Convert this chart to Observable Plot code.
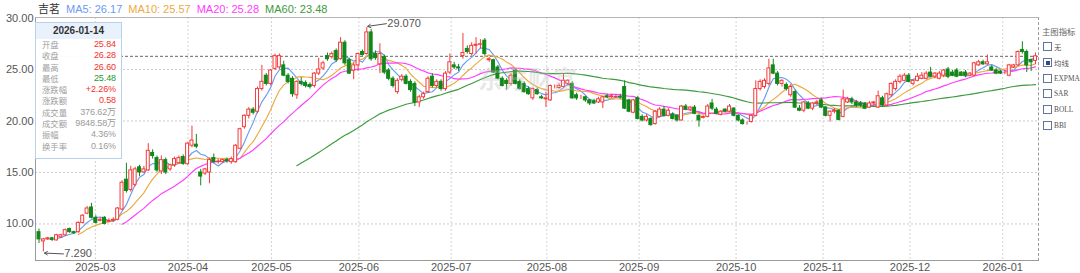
<!DOCTYPE html>
<html><head><meta charset="utf-8">
<script src="https://cdn.jsdelivr.net/npm/d3@7"></script>
<script src="https://cdn.jsdelivr.net/npm/@observablehq/plot@0.6"></script>
<style>
body{margin:0;background:#fff;font-family:"Liberation Sans",Arial,"Noto Sans CJK SC",sans-serif;}
#wrap{position:relative;width:1080px;height:273px;overflow:hidden;}
#wrap svg{position:absolute;left:0;top:0;z-index:1;}
.ov{position:absolute;z-index:2;}
#legend{left:38px;top:1px;font-size:11px;white-space:nowrap;line-height:14px;}
#legend span{margin-right:6px;}
#frame{left:35px;top:17px;width:1002px;height:242px;border-left:1px solid #9a9a9a;border-bottom:1px solid #9a9a9a;border-top:1px solid #b5b5b5;border-right:1px dashed #9a9a9a;pointer-events:none;}
#info{left:35px;top:22px;width:85px;height:135px;border:1px solid #b8d2ee;background:rgba(255,255,255,0.97);font-size:9px;z-index:3;overflow:hidden;}
#info .hd{height:16px;line-height:16px;background:#e9f2fc;text-align:center;font-weight:bold;color:#333;font-size:10px;}
#info .row{position:relative;height:11.3px;padding:0 5px 0 6px;white-space:nowrap;}
#info .row span{position:absolute;top:0;height:11.3px;line-height:11.3px;overflow:hidden;display:block;}
#info .lb{left:6px;color:#a0a0a0;font-family:"Noto Sans CJK SC",sans-serif;font-size:8.4px;}
#info .vl{right:5px;letter-spacing:-0.1px;}
#panel{left:1040px;top:24px;width:40px;}
#panel .t{color:#666;font-family:"Noto Sans CJK SC",sans-serif;font-size:8.4px;margin-left:2px;height:15px;line-height:14px;white-space:nowrap;}
#panel .opt{height:15.7px;display:flex;align-items:center;margin-left:3px;color:#555;font-family:"Liberation Serif","Noto Sans CJK SC",serif;font-size:7.4px;white-space:nowrap;}
#panel .cb{flex:0 0 auto;width:7px;height:7px;border:1px solid #61749a;margin-right:2px;position:relative;background:#fff;}
#panel .cb.on::after{content:"";position:absolute;left:1.5px;top:1.5px;width:4px;height:4px;background:#2f4b86;}
#wm{left:478px;top:60px;font-size:24px;font-weight:bold;color:rgba(190,190,190,0.35);font-family:"Noto Sans CJK SC",sans-serif;z-index:2;letter-spacing:1px;}
</style></head><body><div id="wrap"></div><script>
// ---- data ----
const open = [
9.2,8.3,8.5,8.6,8.4,8.7,8.9,9.5,9.2,9.2,
10.1,11.0,11.6,10.6,10.3,10.6,10.2,10.3,10.4,11.4,
14.3,13.3,13.8,15.5,15.0,15.2,16.9,16.4,15.1,16.2,
15.3,15.7,15.9,16.5,15.8,17.6,17.7,15.0,14.9,15.0,
16.4,16.0,16.0,16.2,16.0,16.0,17.3,19.4,20.5,21.1,
20.9,23.1,24.4,23.6,25.06,25.2,25.4,24.4,24.1,22.5,
23.8,23.7,23.5,23.4,24.6,25.1,26.3,26.2,26.8,26.0,
27.6,25.9,24.9,25.4,26.7,26.5,28.6,26.5,25.5,26.2,
24.9,24.1,22.8,24.0,24.3,23.8,23.6,21.8,22.3,22.8,
24.3,23.4,23.8,23.1,24.7,25.4,25.2,26.3,27.0,26.5,
27.3,27.4,27.8,25.9,25.9,25.2,24.1,23.9,23.6,24.9,
23.8,23.6,23.1,22.2,23.0,22.3,22.1,22.0,23.3,23.2,
23.3,23.6,23.6,22.5,22.3,22.3,22.0,21.9,21.8,21.8,
22.4,22.3,22.3,22.35,23.3,22.0,20.8,22.2,20.4,20.05,
20.2,19.7,20.4,21.1,20.5,20.6,20.5,20.05,21.4,21.1,
21.3,20.5,20.3,20.4,21.7,21.1,20.6,21.1,20.9,21.2,
20.5,20.05,19.75,19.9,20.5,23.1,23.3,23.6,25.4,24.6,
23.6,23.5,22.5,22.8,21.2,21.0,21.7,21.2,21.7,22.0,
21.3,20.5,20.9,21.0,20.4,21.8,22.1,21.8,21.7,21.7,
21.3,21.7,21.3,22.2,21.5,22.5,23.1,23.8,23.9,24.4,
23.6,23.9,24.1,24.1,24.7,24.3,24.1,24.4,25.0,24.7,
24.9,24.7,24.7,24.4,24.4,25.4,25.7,25.5,25.2,24.9,
24.8,24.7,24.4,25.2,25.4,26.9,26.7,25.9,25.84];
const high = [
9.5,8.6,8.7,8.7,9.0,9.0,9.5,9.6,9.3,10.2,
10.9,11.7,12.0,10.8,10.6,10.7,10.5,10.6,11.6,14.2,
15.9,15.6,15.5,15.7,15.6,17.8,17.2,16.6,16.6,16.4,
15.8,16.5,16.6,16.7,17.9,19.5,18.7,15.3,15.4,16.4,
16.8,16.3,16.3,16.4,16.5,17.7,19.3,20.6,21.3,21.3,
23.3,25.4,24.6,25.0,26.5,26.5,25.8,24.6,24.3,23.9,
24.2,23.9,23.7,24.7,26.1,25.8,26.6,26.7,27.0,28.1,
27.8,26.1,25.6,26.6,26.9,29.07,28.9,26.8,27.5,26.4,
25.1,24.3,24.1,24.5,24.5,24.0,23.8,22.5,22.8,24.3,
24.6,24.0,24.0,24.8,26.5,25.7,25.5,28.5,27.3,27.6,
28.1,27.9,28.0,26.2,26.0,25.4,24.3,24.1,24.6,25.0,
24.0,23.8,23.3,23.2,23.2,22.5,22.8,23.5,23.5,23.6,
24.6,24.0,23.8,22.7,22.5,22.4,22.1,22.1,22.3,22.4,
22.6,22.6,22.5,22.6,23.9,22.1,22.1,22.4,20.6,20.6,
20.3,21.0,21.3,21.4,21.2,20.8,20.6,21.5,21.6,21.4,
21.5,20.6,20.5,21.6,22.1,21.3,21.0,21.2,21.6,21.3,
20.6,20.2,19.9,20.6,23.9,24.0,24.1,26.0,26.0,24.8,
24.0,23.7,23.5,23.0,21.5,21.9,21.9,21.8,22.0,22.2,
21.4,21.0,21.2,21.1,23.0,22.3,22.3,22.0,21.9,21.8,
21.9,21.9,22.9,22.4,22.7,23.7,24.0,24.5,24.6,24.6,
24.0,24.6,24.7,24.8,25.2,24.7,24.8,25.0,25.2,24.9,
25.1,24.8,24.9,24.7,25.7,25.9,25.9,26.4,25.4,25.1,
24.9,24.9,25.5,25.5,26.8,27.7,26.9,26.0,26.6];
const low = [
8.1,7.29,8.4,8.3,8.35,8.6,8.8,9.1,9.0,9.1,
10.0,10.9,10.5,10.0,10.2,9.9,10.1,10.2,10.3,11.3,
13.0,13.1,13.6,14.6,14.9,15.1,16.3,15.0,14.8,14.8,
15.1,15.5,15.8,15.7,15.7,17.4,17.3,13.7,14.7,13.9,
15.9,15.8,15.9,15.9,15.8,15.9,17.2,19.2,20.2,20.6,
20.7,22.9,23.4,23.4,24.9,25.0,24.3,23.6,22.3,22.1,
23.4,23.2,23.1,23.2,24.4,24.9,25.8,26.0,25.7,25.9,
25.4,24.5,24.0,24.8,26.3,26.4,25.8,25.9,24.6,24.5,
23.9,23.2,22.6,23.8,23.5,22.8,21.4,21.3,22.1,22.7,
23.2,23.2,22.9,22.9,24.5,25.0,24.8,26.0,26.5,26.3,
26.5,27.0,26.3,25.7,24.6,24.0,23.3,23.0,23.4,23.5,
23.0,22.7,22.5,22.0,22.5,22.1,21.3,21.9,23.1,23.1,
23.2,23.4,22.1,22.0,22.1,21.8,21.5,21.6,21.7,21.2,
22.2,22.2,22.2,22.1,21.1,20.8,20.7,20.1,19.9,19.9,
19.5,19.6,20.3,20.4,20.4,20.1,19.9,20.0,21.0,20.9,
20.6,19.4,20.2,20.3,21.0,20.6,20.5,20.8,20.8,20.4,
19.9,19.6,19.6,19.8,20.4,22.9,23.1,23.4,24.5,23.4,
23.3,22.9,22.3,21.2,20.9,20.8,21.1,21.0,21.5,21.2,
20.4,19.9,20.7,20.0,20.3,21.7,21.6,21.3,21.3,21.1,
21.2,21.5,21.2,21.4,21.4,22.3,22.9,23.6,23.8,23.7,
23.4,23.8,24.0,24.0,24.2,24.1,24.0,24.2,24.1,24.3,
24.2,24.3,24.2,24.3,24.3,25.3,25.4,25.4,24.8,24.5,
24.5,24.5,24.3,25.1,25.3,26.5,24.7,24.8,25.48];
const close = [
8.5,8.5,8.6,8.45,8.9,8.9,9.4,9.2,9.1,10.1,
10.8,11.5,10.6,10.1,10.4,10.0,10.3,10.4,11.5,14.0,
13.2,15.2,15.3,15.0,15.3,17.1,16.6,15.2,16.2,15.0,
15.7,16.3,16.4,15.85,17.8,18.1,17.5,14.6,15.3,16.2,
16.0,16.05,16.2,16.1,16.3,17.6,19.2,20.5,21.1,20.8,
23.1,23.8,23.6,24.9,26.3,26.3,24.4,23.8,22.6,23.8,
23.6,23.4,23.3,24.6,25.0,25.6,26.0,26.5,25.9,27.6,
25.6,24.6,25.4,26.5,26.4,28.6,26.0,26.1,26.5,24.7,
24.1,23.4,23.9,24.3,23.6,23.0,21.8,22.3,22.6,24.1,
23.4,23.8,23.1,24.6,25.7,25.2,25.1,26.6,26.7,27.3,
27.4,27.45,26.5,26.0,24.7,24.1,23.4,23.6,24.4,23.6,
23.1,22.8,22.6,23.1,22.6,22.2,22.2,23.4,23.3,23.4,
23.9,23.9,22.2,22.2,22.3,22.0,21.7,21.7,22.1,22.3,
22.3,22.4,22.35,22.3,21.2,20.9,22.0,20.2,20.05,20.4,
19.6,20.9,21.1,20.5,21.0,20.2,20.05,21.4,21.1,21.3,
20.7,20.05,20.4,21.4,21.2,20.7,20.9,20.9,21.4,20.5,
20.05,19.7,19.75,20.5,23.1,23.8,23.9,25.1,24.6,23.6,
23.9,23.1,23.3,21.3,21.0,21.8,21.2,21.7,21.8,21.3,
20.5,20.9,21.0,20.1,22.1,22.1,21.8,21.5,21.5,21.2,
21.7,21.8,22.4,21.5,22.6,23.6,23.8,24.3,24.4,23.8,
23.9,24.3,24.4,24.6,24.3,24.6,24.6,24.9,24.3,24.4,
24.3,24.4,24.4,24.6,25.6,25.7,25.5,25.7,24.9,24.6,
24.6,24.7,25.4,25.4,26.7,26.7,25.4,25.7,26.28];
const tickIdx = [12.9, 34.1, 53.2, 73.2, 94.3, 116.2, 137.3, 159.5, 179.4, 199.3, 220.5];
const tickLabels = ["2025-03","2025-04","2025-05","2025-06","2025-07","2025-08","2025-09","2025-10","2025-11","2025-12","2026-01"];
const yTicks = [10, 15, 20, 25, 30];
const maPeriods = [5, 10, 20, 60];
const maNames = ["MA5", "MA10", "MA20", "MA60"];
const maLast = ["26.17", "25.57", "25.28", "23.48"];
const maColors = ["#6b9bf2", "#eda93e", "#ff3cff", "#3d9a3d"];
const stockName = "吉茗";
const infoDate = "2026-01-14";
const infoLabels = ["开盘","收盘","最高","最低","涨跌幅","涨跌额","成交量","成交额","振幅","换手率"];
const infoValues = ["25.84","26.28","26.60","25.48","+2.26%","0.58","376.62万","9848.58万","4.36%","0.16%"];
const infoColors = ["#f5312a","#f5312a","#f5312a","#1f9a2d","#f5312a","#f5312a","#9a9a9a","#9a9a9a","#9a9a9a","#9a9a9a"];
const panelTitle = "主图指标";
const panelOpts = ["无","均线","EXPMA","SAR","BOLL","BBI"];
const panelChecked = 1;

// ---- chart ----
const N = close.length;
const data = close.map((c, i) => ({i, o: open[i], h: high[i], l: low[i], c}));
const UP = "#f53a3a", DOWN = "#12871a";
const up = data.filter(d => d.c >= d.o);
const down = data.filter(d => d.c < d.o);
const hw = 0.34;
const hiD = data.reduce((a, b) => (b.h > a.h ? b : a));
const loD = data.reduce((a, b) => (b.l < a.l ? b : a));
const labelOf = new Map(tickIdx.map((t, k) => [t, tickLabels[k]]));

const chart = Plot.plot({
  width: 1080, height: 273,
  marginLeft: 35, marginRight: 42, marginTop: 17, marginBottom: 13,
  style: {fontFamily: "'Liberation Sans', Arial, sans-serif", fontSize: "11px", color: "#555", background: "transparent"},
  x: {domain: [-0.8, N - 1 + 0.69], ticks: tickIdx, tickFormat: d => labelOf.get(d), tickSize: 0, tickPadding: 3, label: null},
  y: {domain: [6.45, 30.05], ticks: yTicks, tickFormat: d => d.toFixed(2), tickSize: 0, tickPadding: 2, label: null},
  marks: [
    Plot.ruleY(yTicks.slice(0, -1), {stroke: "#cdcdcd", strokeDasharray: "2,2"}),
    Plot.ruleX(tickIdx, {stroke: "#d3d3d3", strokeDasharray: "2,2"}),
    Plot.ruleY([close[N - 1]], {stroke: "#666", strokeDasharray: "3,2", strokeWidth: 1}),
    ...maPeriods.map((k, j) => Plot.lineY(data, Plot.windowY({k, anchor: "end", reduce: "mean", strict: true},
      {x: "i", y: "c", stroke: maColors[j], strokeWidth: 1.15}))),
    Plot.ruleX(data, {x: "i", y1: "l", y2: "h", stroke: d => (d.c >= d.o ? UP : DOWN), strokeWidth: 1}),
    Plot.rect(up, {x1: d => d.i - hw, x2: d => d.i + hw, y1: "o", y2: "c", fill: "#fff", stroke: UP, strokeWidth: 1}),
    Plot.rect(down, {x1: d => d.i - hw, x2: d => d.i + hw, y1: "o", y2: "c", fill: DOWN, stroke: DOWN, strokeWidth: 1}),
    Plot.arrow([hiD], {x1: d => d.i + 4.5, y1: d => d.h + 0.38, x2: d => d.i + 0.2, y2: d => d.h + 0.12, stroke: "#555", strokeWidth: 1, headLength: 5}),
    Plot.text([hiD], {x: d => d.i + 4.7, y: d => d.h + 0.38, text: d => d.h.toFixed(3), textAnchor: "start", fill: "#555", fontSize: 11}),
    Plot.arrow([loD], {x1: d => d.i + 4.6, y1: d => d.l - 0.2, x2: d => d.i + 0.25, y2: d => d.l - 0.12, stroke: "#555", strokeWidth: 1, headLength: 5}),
    Plot.text([loD], {x: d => d.i + 4.8, y: d => d.l - 0.2, text: d => d.l.toFixed(3), textAnchor: "start", fill: "#555", fontSize: 11})
  ]
});

const wrap = document.getElementById("wrap");
wrap.appendChild(chart);

function el(cls, id, html) { const d = document.createElement("div"); d.className = cls; if (id) d.id = id; if (html) d.innerHTML = html; wrap.appendChild(d); return d; }

el("ov", "frame");
el("ov", "wm", "东方财富");
const lg = el("ov", "legend");
lg.innerHTML = `<span style="color:#333;font-family:'Noto Sans CJK SC',sans-serif">${stockName}</span>` +
  maNames.map((n, j) => `<span style="color:${maColors[j]}">${n}: ${maLast[j]}</span>`).join("");
const info = el("ov", "info");
info.innerHTML = `<div class="hd">${infoDate}</div>` + infoLabels.map((l, k) =>
  `<div class="row"><span class="lb">${l}</span><span class="vl" style="color:${infoColors[k]}">${infoValues[k]}</span></div>`).join("");
const panel = el("ov", "panel");
panel.innerHTML = `<div class="t">${panelTitle}</div>` + panelOpts.map((o, k) =>
  `<div class="opt"><div class="cb${k === panelChecked ? " on" : ""}"></div><span>${o}</span></div>`).join("");
</script></body></html>
